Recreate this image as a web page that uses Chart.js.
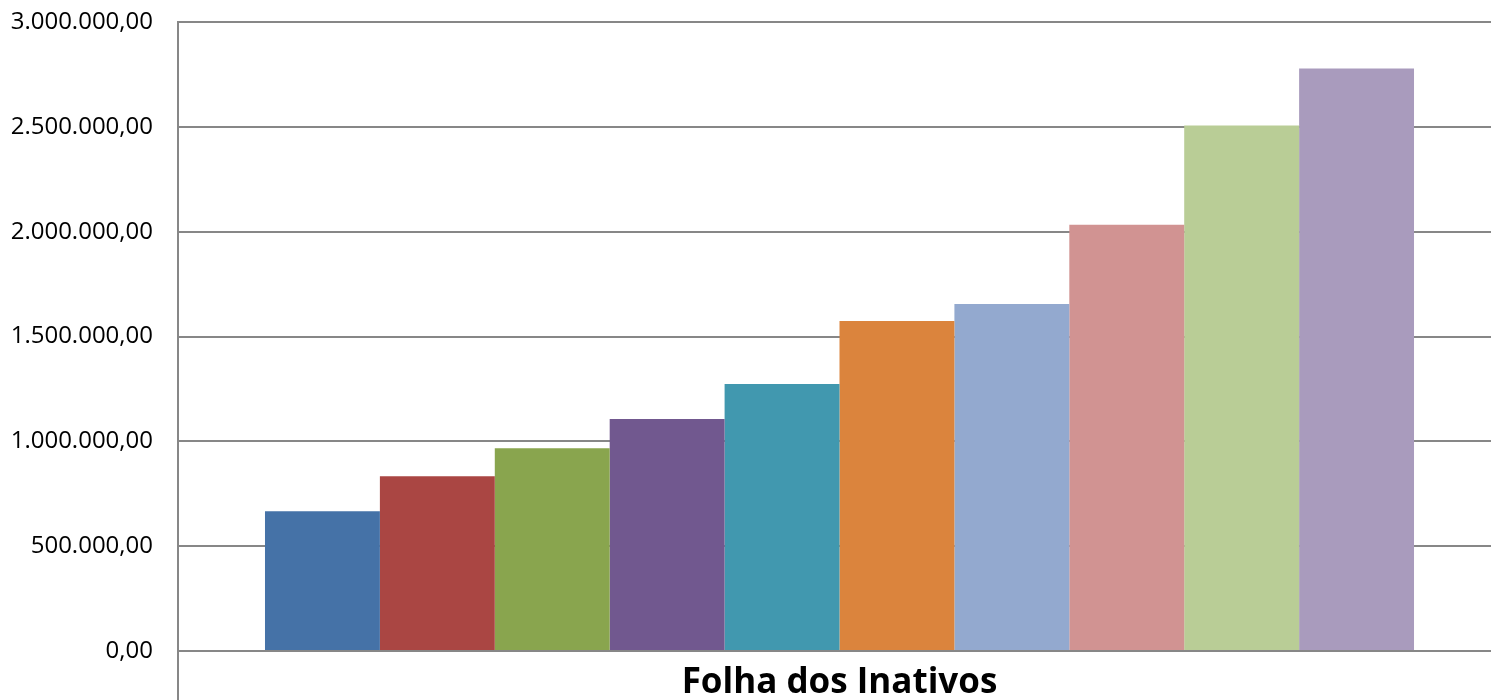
<!DOCTYPE html>
<html>
<head>
<meta charset="utf-8">
<script src="https://cdn.jsdelivr.net/npm/chart.js@4/dist/chart.umd.min.js"></script>
<style>
    html, body { margin: 0; padding: 0; background: #fff; overflow: hidden; }
    #wrap { width: 1502px; height: 700px; }
</style>
</head>
<body>
<div id="wrap"><canvas id="chart" width="1502" height="700"></canvas></div>
<script>
    // one category, ten single-bar series (Excel style)
    const categories = ['Folha dos Inativos'];
    const seriesValues = [666000, 834000, 967000, 1106000, 1273000, 1574000, 1655000, 2033000, 2506000, 2778000];
    const seriesColors = ['#4572A7', '#AA4643', '#89A54E', '#71588F', '#4198AF', '#DB843D', '#93A9CF', '#D19392', '#B9CD96', '#A99BBD'];
    const yTicks = [0, 500000, 1000000, 1500000, 2000000, 2500000, 3000000];

    const gridColor = '#878787';
    const fmt = new Intl.NumberFormat('pt-BR', { minimumFractionDigits: 2, maximumFractionDigits: 2 });

    const datasets = seriesValues.map((v, i) => ({
        label: 'Série ' + (i + 1),
        data: [v],
        backgroundColor: seriesColors[i],
        borderWidth: 0
    }));

    new Chart(document.getElementById('chart'), {
        type: 'bar',
        data: { labels: categories, datasets: datasets },
        options: {
            responsive: false,
            animation: false,
            layout: { padding: { top: 22, right: 1, left: 0, bottom: 0 } },
            datasets: { bar: { categoryPercentage: 0.8685, barPercentage: 1 } },
            plugins: {
                legend: { display: false },
                tooltip: { enabled: false }
            },
            scales: {
                y: {
                    min: 0,
                    max: 3000000,
                    afterBuildTicks: (scale) => { scale.ticks = yTicks.map(v => ({ value: v })); },
                    afterFit: (scale) => {
                        scale.width = 178;
                        scale.paddingTop = 0;
                        scale.paddingBottom = 0;
                    },
                    ticks: {
                        padding: 25,
                        color: '#000',
                        font: { family: 'Open Sans', size: 24 },
                        callback: (v) => fmt.format(v)
                    },
                    grid: { color: gridColor, lineWidth: 2, drawTicks: false },
                    border: { color: gridColor, width: 2 }
                },
                x: {
                    afterFit: (scale) => { scale.height = 49; },
                    ticks: {
                        padding: -38,
                        color: '#000',
                        font: { family: 'Open Sans', size: 35, weight: 'bold' }
                    },
                    grid: { offset: true, drawOnChartArea: false, tickLength: 49, color: gridColor, lineWidth: 2 },
                    border: { color: gridColor, width: 2 }
                }
            }
        }
    });
</script>
</body>
</html>
